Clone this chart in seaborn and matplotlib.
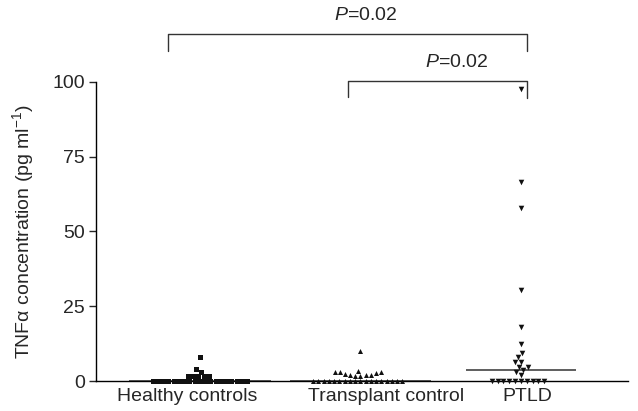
import numpy as np
import pandas as pd
import matplotlib
matplotlib.use("Agg")
import matplotlib.pyplot as plt
import seaborn as sns

# TNF-alpha concentration (pg/ml)
groups = ["Healthy controls", "Transplant control", "PTLD"]
healthy = [0] * 19 + [1.6, 1.6, 1.7, 1.7, 1.8, 3.1, 3.9, 8.1]
transplant = [0] * 18 + [1.8, 1.8, 1.9, 2.0, 2.1, 2.3, 2.6, 3.0, 3.0, 3.1, 3.3, 10.0]
ptld = [0] * 10 + [2.0, 2.9, 3.7, 4.8, 4.8, 6.5, 6.5, 8.1, 9.5, 12.4,
                   18.2, 30.6, 57.7, 66.6, 97.6]
markers = ["s", "^", "v"]
yticks = [0, 25, 50, 75, 100]

# comparisons: (from group, to group, label)
comparisons = [("Healthy controls", "PTLD", "=0.02"),
               ("Transplant control", "PTLD", "=0.02")]

df = pd.DataFrame({
    "group": [groups[0]] * len(healthy) + [groups[1]] * len(transplant) + [groups[2]] * len(ptld),
    "tnf": healthy + transplant + ptld,
})

sns.set_style("white")
plt.rcParams["font.family"] = ["Liberation Sans", "DejaVu Sans"]
plt.rcParams["mathtext.fontset"] = "custom"
plt.rcParams["mathtext.rm"] = "Liberation Sans"
plt.rcParams["mathtext.it"] = "Liberation Sans:italic"

fig = plt.figure(figsize=(6.38, 4.11), dpi=100)
ax = fig.add_axes([96 / 638, 30 / 411, 532 / 638, 299 / 411])

sizes = [3.6, 3.6, 4.0]
for g, m, s in zip(groups, markers, sizes):
    sns.swarmplot(data=df[df.group == g], x="group", y="tnf", order=groups,
                  marker=m, color="#111111", size=s, linewidth=0, ax=ax,
                  clip_on=False, zorder=3)

# median lines
med = df.groupby("group", sort=False)["tnf"].median()
half_w = [0.44, 0.44, 0.34]
for i, g in enumerate(groups):
    ax.hlines(med[g], i - half_w[i], i + half_w[i], color="#333333", lw=1.1, zorder=2,
              clip_on=False)

ax.set_xlim(-0.648, 2.667)
ax.set_ylim(0, 100)
ax.set_yticks(yticks)
ax.tick_params(axis="y", direction="out", length=5, width=1, labelsize=14, pad=3, left=True)
ax.tick_params(axis="x", length=0, labelsize=14, pad=5)
ax.set_xticks([-0.08, 1.16, 2.04])
ax.set_xticklabels(groups)
ax.set_xlabel("")
ax.set_ylabel("TNFα concentration (pg ml$^{-1}$)", fontsize=14, labelpad=12)
sns.despine(ax=ax)
ax.spines["left"].set_bounds(0, 100)
for s in ["left", "bottom"]:
    ax.spines[s].set_color("black")
    ax.spines[s].set_linewidth(1)

# significance brackets
brackets = [(-0.2, 2.04, 116, 110.5, 110.5, 1.03, 119.5),
            (0.92, 2.04, 100.3, 95, 94.5, 1.6, 103.8)]
for (x0, x1, yt, yl, yr, xt, ytxt), (_, _, lab) in zip(brackets, comparisons):
    ax.plot([x0, x0, x1, x1], [yl, yt, yt, yr], color="#333333", lw=1,
            clip_on=False)
    ax.text(xt, ytxt, "$\\it{P}$" + lab, ha="center", va="bottom", fontsize=14)

fig.savefig("out.png", dpi=100)
